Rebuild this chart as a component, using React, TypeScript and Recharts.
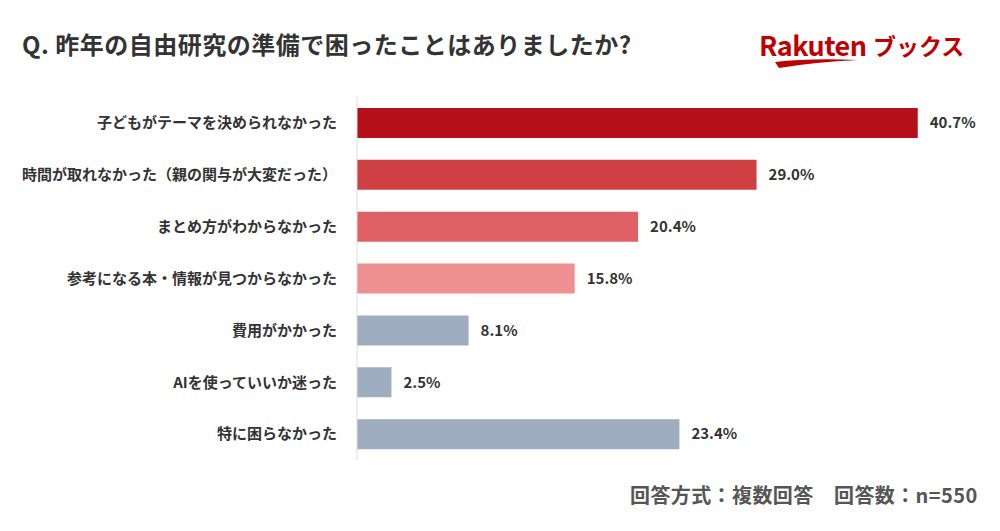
import { Bar, BarChart, Cell, LabelList, XAxis, YAxis } from 'recharts';

const categories = [
  '子どもがテーマを決められなかった',
  '時間が取れなかった（親の関与が大変だった）',
  'まとめ方がわからなかった',
  '参考になる本・情報が見つからなかった',
  '費用がかかった',
  'AIを使っていいか迷った',
  '特に困らなかった',
];

const percents = [40.7, 29.0, 20.4, 15.8, 8.1, 2.5, 23.4];

const barColors = ['#B5101B', '#CF4044', '#E06165', '#EE9091', '#9FADC0', '#9FADC0', '#9FADC0'];

const data = categories.map((name, i) => ({ name, value: percents[i] }));

const FONT = '"Noto Sans CJK JP", "Noto Sans", sans-serif';

const RakutenLogo = () => (
  <svg width={230} height={56} style={{ position: 'absolute', left: 755, top: 22, overflow: 'visible' }}>
    <text x={4} y={34} fontFamily={FONT} fontWeight={700} fontSize={27} fill="#BF0000" letterSpacing={-0.5}>
      Rakuten
    </text>
    <path d="M20 40 Q55 36 103 38 Q60 40 24 46 Z" fill="#BF0000" />
    <text x={118} y={33} fontFamily={FONT} fontWeight={700} fontSize={23} fill="#BF0000">
      ブックス
    </text>
  </svg>
);

export default function App() {
  return (
    <div
      style={{
        position: 'absolute',
        left: 0,
        top: 0,
        width: 1000,
        height: 531,
        background: '#fff',
        fontFamily: FONT,
        overflow: 'hidden',
      }}
    >
      <div
        style={{
          position: 'absolute',
          left: 22,
          top: 26,
          fontSize: 24,
          fontWeight: 700,
          color: '#333',
          letterSpacing: 0.5,
          whiteSpace: 'nowrap',
        }}
      >
        Q. 昨年の自由研究の準備で困ったことはありましたか?
      </div>
      <RakutenLogo />
      <div style={{ position: 'absolute', left: 0, top: 97 }}>
        <BarChart
          width={1000}
          height={363}
          data={data}
          layout="vertical"
          margin={{ top: 0, right: 23, bottom: 0, left: 0 }}
          barCategoryGap={11}
        >
          <XAxis type="number" domain={[0, 45]} hide />
          <YAxis
            type="category"
            dataKey="name"
            width={357}
            axisLine={{ stroke: '#DDDDDD' }}
            tickLine={false}
            tickMargin={14}
            interval={0}
            tick={{ fill: '#333', fontSize: 15, fontWeight: 700, fontFamily: FONT }}
          />
          <Bar dataKey="value" barSize={30} isAnimationActive={false}>
            {data.map((d, i) => (
              <Cell key={d.name} fill={barColors[i]} />
            ))}
            <LabelList
              dataKey="value"
              position="right"
              offset={12}
              formatter={(v: number) => `${Number(v).toFixed(1)}%`}
              style={{ fill: '#333', fontSize: 15, fontWeight: 700, fontFamily: FONT }}
            />
          </Bar>
        </BarChart>
      </div>
      <div
        style={{
          position: 'absolute',
          left: 630,
          top: 480,
          fontSize: 20,
          fontWeight: 700,
          color: '#555',
          letterSpacing: 0.4,
          whiteSpace: 'nowrap',
        }}
      >
        回答方式：複数回答　回答数：n=550
      </div>
    </div>
  );
}
